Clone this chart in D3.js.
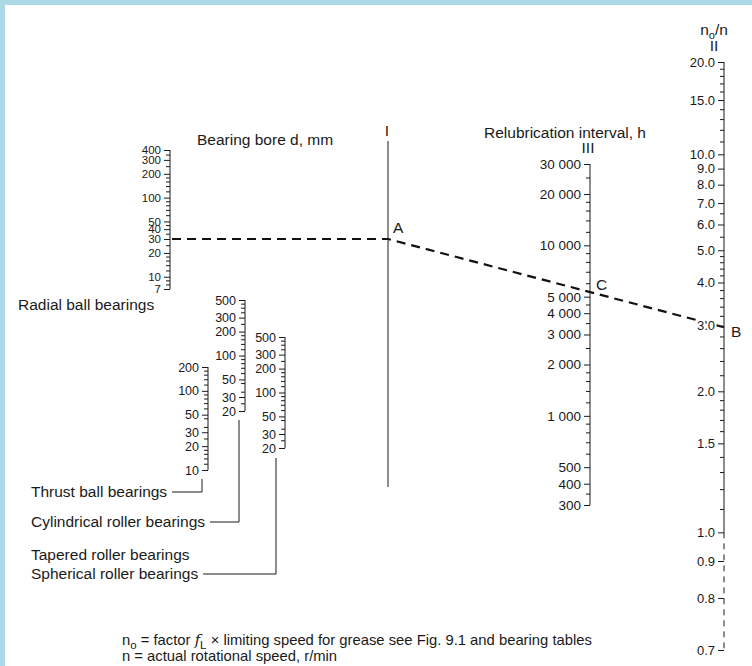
<!DOCTYPE html>
<html>
<head>
<meta charset="utf-8">
<script src="https://cdn.jsdelivr.net/npm/d3@7"></script>
<style>
    body { margin: 0; background: #fff; }
    text { font-family: "Liberation Sans", Arial, sans-serif; fill: #1a1a1a; }
</style>
</head>
<body>
<div class="vis-nomogram"></div>
<script>
// bore scales (mm)
const radialTicks = [7, 10, 20, 30, 40, 50, 100, 200, 300, 400];
const thrustTicks = [10, 20, 30, 50, 100, 200];
const cylTicks = [20, 30, 50, 100, 200, 300, 500];
const taperTicks = [20, 30, 50, 100, 200, 300, 500];
const boreMinor = [8, 9, 12, 14, 16, 18, 25, 35, 45, 60, 70, 80, 90, 120, 140, 160, 180, 250, 350, 400, 450];

// relubrication interval (h)
const intervalTicks = [300, 400, 500, 1000, 2000, 3000, 4000, 5000, 10000, 20000, 30000];
const intervalMinor = [350, 600, 700, 800, 900, 1200, 1400, 1600, 1800, 2500, 3500, 4500, 6000, 7000, 8000, 9000, 12000, 14000, 16000, 18000, 25000];

// speed ratio no/n
const ratioTicks = [0.7, 0.8, 0.9, 1.0, 1.5, 2.0, 3.0, 4.0, 5.0, 6.0, 7.0, 8.0, 9.0, 10.0, 15.0, 20.0];
const ratioMinor = [1.1, 1.2, 1.3, 1.4, 1.6, 1.7, 1.8, 1.9, 2.2, 2.4, 2.6, 2.8, 3.2, 3.4, 3.6, 3.8, 4.2, 4.4, 4.6, 4.8, 5.5, 6.5, 11, 12, 13, 14, 16, 17, 18, 19];

// worked example
const exampleBore = 30;
const exampleRatio = 2.97;

const W = 752, H = 666;
const svg = d3.select('.vis-nomogram').append('svg')
    .attr('width', W).attr('height', H);

svg.append('rect').attr('width', W).attr('height', H).attr('fill', '#fff');
svg.append('rect').attr('width', W).attr('height', 5).attr('fill', '#add8e6');
svg.append('rect').attr('width', 5).attr('height', H).attr('fill', '#add8e6');

const ink = '#1a1a1a';
const labelSize = '15.5px';

const nf = d3.formatLocale({ decimal: '.', thousands: ' ', grouping: [3], currency: ['', ''] }).format(',');

// scales
const yRadial = d3.scaleLog().domain([7, 400]).range([289, 150]);
const yThrust = d3.scaleLog().domain([10, 200]).range([470, 367]);
const yCyl = d3.scaleLog().domain([20, 500]).range([411, 300]);
const yTaper = d3.scaleLog().domain([20, 500]).range([448, 337]);
const yInterval = d3.scaleLog().domain([300, 30000]).range([505, 164]);
const ratioShift = 0.5;
const yRatioLog = d3.scaleLog().domain([20 - ratioShift, 0.7 - ratioShift]).range([62, 650]);
const yRatio = v => yRatioLog(v - ratioShift);

const xRadial = 170, xThrust = 208, xCyl = 245, xTaper = 285, xI = 388, xIII = 590, xII = 724;

function logAxis(x, scale, major, minor, fmt, size, shift) {
    shift = shift || 0;
    const g = svg.append('g').attr('transform', 'translate(' + x + ',0)');
    const lo = d3.min(major), hi = d3.max(major);
    const mins = minor.filter(d => d > lo && d < hi && major.indexOf(d) < 0);
    g.append('g').call(d3.axisLeft(scale).tickValues(mins.map(d => d - shift))
        .tickSize(4).tickSizeOuter(0).tickFormat(''));
    g.append('g').call(d3.axisLeft(scale).tickValues(major.map(d => d - shift))
        .tickSize(6).tickSizeOuter(0).tickPadding(3).tickFormat(d => fmt(d + shift)));
    g.selectAll('.domain').remove();
    g.selectAll('.tick line').attr('stroke', ink);
    g.selectAll('.tick text').attr('fill', ink).style('font-size', size)
        .style('font-family', '"Liberation Sans", Arial, sans-serif');
    return g;
}

function axisLine(x, y0, y1, dash) {
    svg.append('line').attr('x1', x).attr('x2', x).attr('y1', y0).attr('y2', y1)
        .attr('stroke', ink).attr('stroke-width', 1)
        .attr('stroke-dasharray', dash || null);
}

// worked example line (drawn first so labels sit on top)
const yA = yRadial(exampleBore);
const yB = yRatio(exampleRatio);
const yC = yA + (yB - yA) * (xIII - xI) / (xII - xI);
svg.append('path')
    .attr('d', d3.line()([[xRadial + 2, yA], [xI, yA], [xII, yB]]))
    .attr('fill', 'none').attr('stroke', '#111').attr('stroke-width', 2.2)
    .attr('stroke-dasharray', '9,6');

// bore scales
axisLine(xRadial, yRadial(7), yRadial(400));
logAxis(xRadial, yRadial, radialTicks, boreMinor, d3.format('d'), '11.5px');
axisLine(xThrust, yThrust(10), yThrust(200));
logAxis(xThrust, yThrust, thrustTicks, boreMinor, d3.format('d'), '12.5px');
axisLine(xCyl, yCyl(20), yCyl(500));
logAxis(xCyl, yCyl, cylTicks, boreMinor, d3.format('d'), '12.5px');
axisLine(xTaper, yTaper(20), yTaper(500));
logAxis(xTaper, yTaper, taperTicks, boreMinor, d3.format('d'), '12.5px');

// relubrication interval scale
axisLine(xIII, yInterval(300), yInterval(30000));
logAxis(xIII, yInterval, intervalTicks, intervalMinor, nf, '13.5px');

// speed ratio scale
axisLine(xII, yRatio(20), yRatio(1));
axisLine(xII, yRatio(1), yRatio(0.7), '6,5');
const gII = logAxis(xII, yRatioLog, ratioTicks, ratioMinor, d3.format('.1f'), '13px', ratioShift);
gII.selectAll('.tick text').attr('stroke', '#fff').attr('stroke-width', 4)
    .attr('paint-order', 'stroke');

// reference line I
axisLine(xI, 141, 487);

function label(x, y, str, anchor, size) {
    return svg.append('text').attr('x', x).attr('y', y)
        .attr('text-anchor', anchor || 'start')
        .style('font-size', size || labelSize).text(str);
}

label(197, 145, 'Bearing bore d, mm');
label(xI - 1, 136, 'I', 'middle');
label(565, 138, 'Relubrication interval, h', 'middle');
label(xIII - 2, 153, 'III', 'middle');
label(xII - 10, 51, 'II', 'middle');
const no = label(xII - 10, 35, 'n', 'middle');
no.append('tspan').attr('dy', 4).style('font-size', '11px').text('o');
no.append('tspan').attr('dy', -4).text('/n');

label(xI + 5, yA - 6, 'A');
label(xIII + 6, yC - 2, 'C');
label(xII + 7, yB + 10, 'B');

// bearing type labels and leaders
label(18, 310, 'Radial ball bearings');

function leader(txt, xLabel, yBase, xAxis, yTop) {
    const t = label(xLabel, yBase, txt);
    const w = t.node().getComputedTextLength();
    const xv = xAxis - 6, yh = yBase - 5;
    svg.append('path')
        .attr('d', d3.line()([[xLabel + w + 5, yh], [xv, yh], [xv, yTop]]))
        .attr('fill', 'none').attr('stroke', ink).attr('stroke-width', 1);
}
leader('Thrust ball bearings', 31, 497, xThrust, yThrust(10) + 9);
leader('Cylindrical roller bearings', 31, 527, xCyl, yCyl(20) + 9);
label(31, 560, 'Tapered roller bearings');
leader('Spherical roller bearings', 31, 579, xTaper - 3, yTaper(20) + 10);

// footnote
const f1 = label(122, 645, 'n', 'start', '14.8px');
f1.append('tspan').attr('dy', 4).style('font-size', '11.5px').text('o');
f1.append('tspan').attr('dy', -4).text(' = factor ');
f1.append('tspan').style('font-family', '"DejaVu Serif", serif').style('font-style', 'italic').text('f');
f1.append('tspan').attr('dy', 4).style('font-size', '11.5px').text('L');
f1.append('tspan').attr('dy', -4).text(' \u00d7 limiting speed for grease see Fig. 9.1 and bearing tables');
label(122, 661, 'n = actual rotational speed, r/min', 'start', '14.8px');
</script>
</body>
</html>
